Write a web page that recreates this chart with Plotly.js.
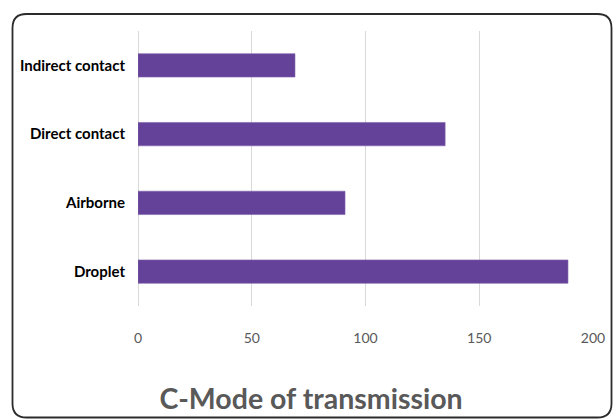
<!DOCTYPE html>
<html>
<head>
<meta charset="utf-8">
<script src="https://cdn.plot.ly/plotly-3.0.1.min.js"></script>
<style>
html,body{margin:0;padding:0;background:#fff;}
#chart{width:613px;height:420px;}
</style>
</head>
<body>
<div id="chart"></div>
<script>
// Data
const categories = ["Droplet", "Airborne", "Direct contact", "Indirect contact"];
const counts = [189, 91, 135, 69];
const xTickValues = [0, 50, 100, 150, 200];
const chartTitle = "C-Mode of transmission";

const W = 613, H = 420;
const M = {l: 138, r: 20, t: 31, b: 114};
const pw = W - M.l - M.r, ph = H - M.t - M.b;
const px = X => (X - M.l) / pw;
const py = Y => (H - M.b - Y) / ph;

// rounded border frame (decoration) in pixel -> paper coords
function roundedFrame(x0, y0, x1, y1, r) {
  const P = (X, Y) => px(X) + ',' + py(Y);
  return 'M' + P(x0 + r, y0) + ' L' + P(x1 - r, y0) +
    ' Q' + P(x1, y0) + ' ' + P(x1, y0 + r) +
    ' L' + P(x1, y1 - r) +
    ' Q' + P(x1, y1) + ' ' + P(x1 - r, y1) +
    ' L' + P(x0 + r, y1) +
    ' Q' + P(x0, y1) + ' ' + P(x0, y1 - r) +
    ' L' + P(x0, y0 + r) +
    ' Q' + P(x0, y0) + ' ' + P(x0 + r, y0) + ' Z';
}

const fam = 'Lato, "Liberation Sans", sans-serif';

const trace = {
  type: 'bar',
  orientation: 'h',
  y: categories,
  x: counts,
  marker: {color: '#654299', line: {color: '#7f62ad', width: 0.6}},
  hoverinfo: 'none'
};

const layout = {
  width: W, height: H,
  margin: M,
  paper_bgcolor: '#ffffff',
  plot_bgcolor: '#ffffff',
  showlegend: false,
  bargap: 0.66,
  title: {
    text: '<b>' + chartTitle + '</b>',
    font: {family: fam, size: 28.5, color: '#595959'},
    xref: 'container', yref: 'container',
    x: 311 / W, xanchor: 'center',
    y: 1 - 399 / H, yanchor: 'middle'
  },
  xaxis: {
    range: [0, 200],
    tickvals: xTickValues,
    ticktext: xTickValues.map(String),
    showgrid: true,
    gridcolor: '#d9d9d9',
    gridwidth: 1,
    zeroline: true,
    zerolinecolor: '#d9d9d9',
    zerolinewidth: 1,
    showline: false,
    ticks: '',
    ticklabelstandoff: 22,
    tickfont: {family: fam, size: 14, color: '#595959'},
    fixedrange: true
  },
  yaxis: {
    type: 'category',
    categoryorder: 'array',
    categoryarray: categories,
    showgrid: false,
    zeroline: false,
    showline: false,
    ticks: '',
    ticklabelstandoff: 12,
    tickfont: {family: fam, size: 15, color: '#000000', weight: 'bold'},
    fixedrange: true
  },
  shapes: [{
    type: 'path',
    xref: 'paper', yref: 'paper',
    path: roundedFrame(12.5, 14, 611.5, 417.5, 14),
    line: {color: '#2b2b2b', width: 1.8},
    fillcolor: 'rgba(0,0,0,0)',
    layer: 'below'
  }]
};

Plotly.newPlot('chart', [trace], layout, {staticPlot: true, displayModeBar: false});
</script>
</body>
</html>
